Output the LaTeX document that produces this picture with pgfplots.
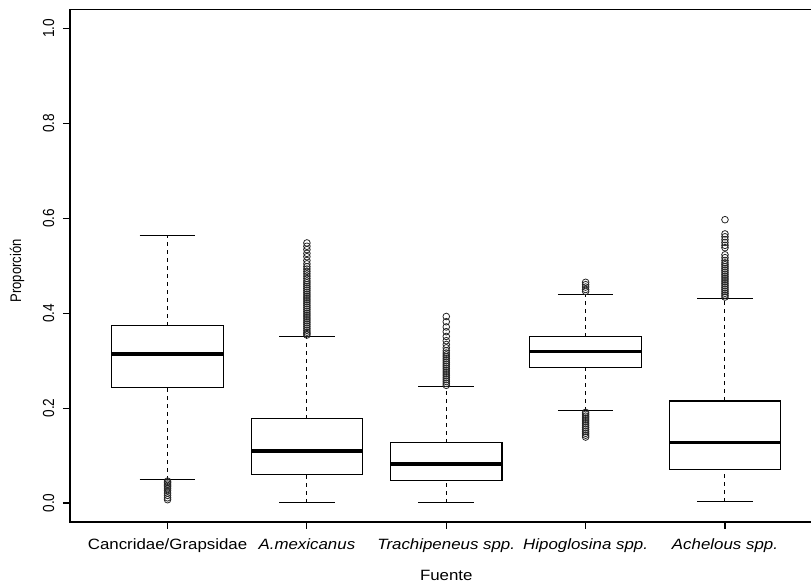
\documentclass[border=0pt]{standalone}
\usepackage{fontspec}
\setmainfont{Liberation Sans}
\newfontfamily\hfont{Liberation Sans}[FakeStretch=1.13]
\newfontfamily\vfont{Liberation Sans}[FakeStretch=0.85]
\usepackage{pgfplots}
\pgfplotsset{compat=1.18}
\usepgfplotslibrary{statistics}
\pgfplotsset{
  boxplot/draw/box/.code={%
    \draw[line width=0.8pt] (boxplot box cs:\pgfplotsboxplotvalue{lower quartile},0) rectangle (boxplot box cs:\pgfplotsboxplotvalue{upper quartile},1);},
  boxplot/draw/median/.code={%
    \draw[line width=2.6pt] (boxplot box cs:\pgfplotsboxplotvalue{median},0) -- (boxplot box cs:\pgfplotsboxplotvalue{median},1);},
  boxplot/draw/lower whisker/.code={%
    \draw[line width=0.75pt,dash pattern=on 3pt off 3pt] (boxplot box cs:\pgfplotsboxplotvalue{lower whisker},0.5) -- (boxplot box cs:\pgfplotsboxplotvalue{lower quartile},0.5);
    \draw[line width=0.8pt] (boxplot box cs:\pgfplotsboxplotvalue{lower whisker},0.25) -- (boxplot box cs:\pgfplotsboxplotvalue{lower whisker},0.75);},
  boxplot/draw/upper whisker/.code={%
    \draw[line width=0.75pt,dash pattern=on 3pt off 3pt] (boxplot box cs:\pgfplotsboxplotvalue{upper quartile},0.5) -- (boxplot box cs:\pgfplotsboxplotvalue{upper whisker},0.5);
    \draw[line width=0.8pt] (boxplot box cs:\pgfplotsboxplotvalue{upper whisker},0.25) -- (boxplot box cs:\pgfplotsboxplotvalue{upper whisker},0.75);},
  rbox/.style={black, boxplot/draw direction=y, boxplot/box extend=0.8,
    mark=o, mark size=2.5pt, mark options={line width=0.6pt, draw=black!85}},
}
\begin{document}
\begin{tikzpicture}
\begin{axis}[
  name=ax, at={(0,0)}, anchor=south west, scale only axis,
  width=564.4pt, height=384.4pt,
  xmin=0.3, xmax=5.7, ymin=-0.04, ymax=1.04,
  axis line style={line width=0.8pt},
  every tick/.style={black, line width=0.8pt},
  tick align=outside, major tick length=5.25pt,
  xtick pos=left, ytick pos=left,
  xtick={1,2,3,4,5},
  xticklabels={Cancridae/Grapsidae, \textit{A.mexicanus}, \textit{Trachipeneus spp.}, \textit{Hipoglosina spp.}, \textit{Achelous spp.}},
  xticklabel style={font=\hfont\fontsize{11.2pt}{13pt}\selectfont, yshift=-4pt},
  ytick={0,0.2,0.4,0.6,0.8,1.0},
  yticklabel style={font=\vfont\fontsize{12pt}{13pt}\selectfont, rotate=90, anchor=south, yshift=3pt},
  /pgf/number format/assume math mode=true,
  /pgf/number format/.cd, fixed, fixed zerofill, precision=1, /pgfplots/.cd,
  xlabel={Fuente},
  xlabel style={font=\hfont\fontsize{11.2pt}{13pt}\selectfont, at={(axis description cs:0.5,-0.105)}, anchor=center},
  ylabel={Proporción},
  ylabel style={font=\vfont\fontsize{11.5pt}{13pt}\selectfont, at={(axis description cs:-0.0704,0.49)}, anchor=center},
  clip=false,
]
% Cancridae/Grapsidae
\addplot[rbox, boxplot prepared={draw position=1, lower whisker=0.049, lower quartile=0.243, median=0.314, upper quartile=0.374, upper whisker=0.563}]
  table[row sep=\\, y index=0] {0.046\\0.043\\0.040\\0.037\\0.034\\0.030\\0.026\\0.021\\0.016\\0.011\\0.007\\};
% A.mexicanus
\addplot[rbox, boxplot prepared={draw position=2, lower whisker=0.001, lower quartile=0.061, median=0.110, upper quartile=0.178, upper whisker=0.351}]
  table[row sep=\\, y index=0] {0.548\\0.541\\0.534\\0.526\\0.519\\0.511\\0.504\\0.498\\0.493\\0.488\\0.483\\0.478\\0.473\\0.468\\0.464\\0.460\\0.456\\0.452\\0.448\\0.444\\0.440\\0.436\\0.432\\0.428\\0.424\\0.420\\0.416\\0.412\\0.408\\0.404\\0.400\\0.396\\0.392\\0.388\\0.384\\0.380\\0.376\\0.372\\0.368\\0.364\\0.360\\0.357\\0.354\\};
% Trachipeneus spp.
\addplot[rbox, boxplot prepared={draw position=3, lower whisker=0.001, lower quartile=0.047, median=0.082, upper quartile=0.127, upper whisker=0.245}]
  table[row sep=\\, y index=0] {0.393\\0.382\\0.371\\0.361\\0.351\\0.342\\0.334\\0.327\\0.321\\0.316\\0.312\\0.308\\0.304\\0.300\\0.296\\0.292\\0.288\\0.284\\0.280\\0.276\\0.272\\0.268\\0.264\\0.260\\0.256\\0.252\\0.248\\};
% Hipoglosina spp.
\addplot[rbox, boxplot prepared={draw position=4, lower whisker=0.194, lower quartile=0.286, median=0.319, upper quartile=0.350, upper whisker=0.440}]
  table[row sep=\\, y index=0] {0.465\\0.460\\0.455\\0.450\\0.446\\0.191\\0.187\\0.183\\0.179\\0.175\\0.171\\0.167\\0.163\\0.159\\0.155\\0.151\\0.147\\0.143\\0.139\\};
% Achelous spp.
\addplot[rbox, boxplot prepared={draw position=5, lower whisker=0.003, lower quartile=0.070, median=0.128, upper quartile=0.215, upper whisker=0.431}]
  table[row sep=\\, y index=0] {0.597\\0.567\\0.561\\0.555\\0.549\\0.543\\0.538\\0.523\\0.517\\0.511\\0.506\\0.502\\0.498\\0.494\\0.490\\0.486\\0.482\\0.478\\0.474\\0.470\\0.466\\0.462\\0.458\\0.454\\0.450\\0.446\\0.442\\0.438\\0.434\\};
\end{axis}
\pgfresetboundingbox
\useasboundingbox (-52.5pt,-46.5pt) rectangle (555.75pt,391.5pt);
\end{tikzpicture}
\end{document}
